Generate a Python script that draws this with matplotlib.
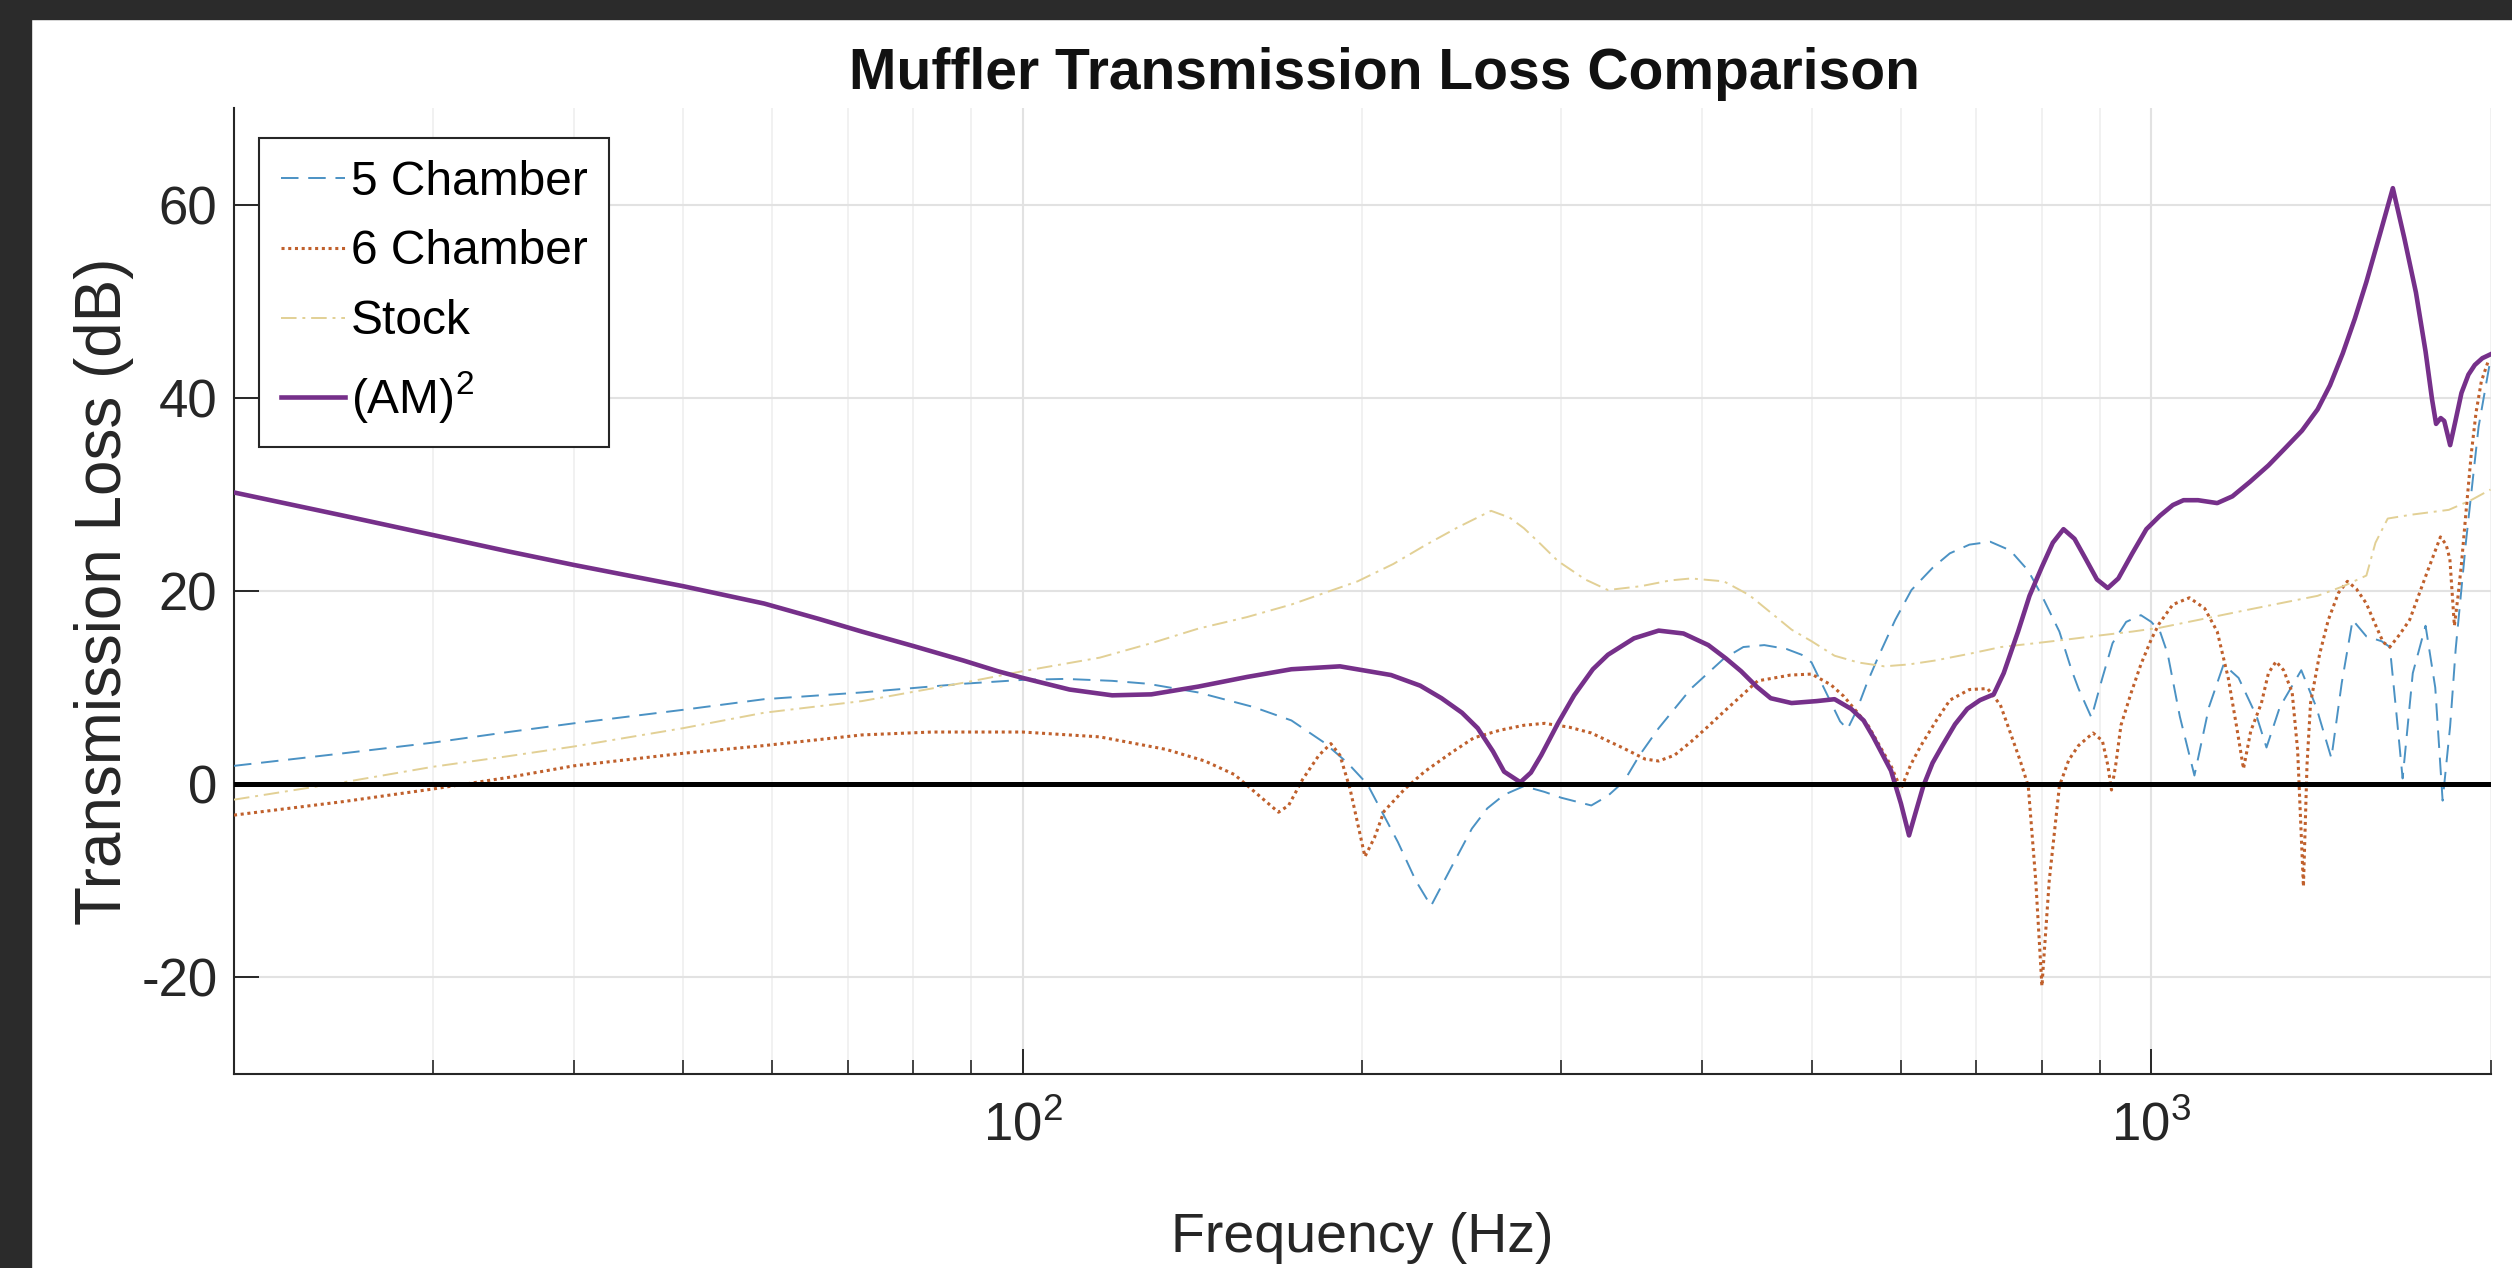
import matplotlib
matplotlib.use('Agg')
import matplotlib.pyplot as plt
from matplotlib.patches import Rectangle
from matplotlib.ticker import LogLocator, NullFormatter, FixedLocator

plt.rcParams['font.family'] = ['Liberation Sans', 'DejaVu Sans']
plt.rcParams['mathtext.fontset'] = 'custom'
plt.rcParams['mathtext.rm'] = 'Liberation Sans'
plt.rcParams['mathtext.it'] = 'Liberation Sans:italic'
plt.rcParams['mathtext.bf'] = 'Liberation Sans:bold'
plt.rcParams['axes.unicode_minus'] = False

# ---------------- data ----------------
am2_f = [20, 25, 30, 35, 40, 50, 59, 66, 72, 80, 88.6, 95, 100, 110, 120, 130, 143, 158, 173,
         191, 212, 225, 235, 245, 253, 261, 267, 276, 282, 288, 298, 308, 320, 330, 348, 366,
         385, 405, 420, 433, 447, 460, 480, 505, 524, 542, 556, 567, 588, 600, 610, 618, 628,
         640, 653, 670, 687, 705, 725, 740, 762, 780, 800, 818, 836, 855, 874, 895, 915, 935,
         962, 990, 1018, 1045, 1068, 1100, 1144, 1180, 1223, 1270, 1312, 1360, 1404, 1440,
         1478, 1515, 1551, 1595, 1637, 1676, 1716, 1750, 1773, 1788, 1805, 1818, 1840, 1860,
         1883, 1910, 1935, 1965, 1998]
am2_db = [30.2, 27.8, 25.8, 24.1, 22.7, 20.5, 18.7, 17.1, 15.8, 14.3, 12.8, 11.7, 11.0, 9.8,
          9.2, 9.3, 10.1, 11.1, 11.9, 12.2, 11.3, 10.2, 8.9, 7.4, 5.8, 3.4, 1.3, 0.2, 1.2, 3.0,
          6.3, 9.2, 11.9, 13.4, 15.1, 15.9, 15.6, 14.4, 13.0, 11.7, 10.1, 8.9, 8.4, 8.6, 8.8,
          7.8, 6.6, 4.9, 1.4, -2.0, -5.3, -3.0, -0.2, 2.2, 4.0, 6.2, 7.8, 8.7, 9.3, 11.5, 15.8,
          19.5, 22.5, 25.0, 26.4, 25.4, 23.4, 21.2, 20.3, 21.3, 23.9, 26.4, 27.8, 28.9, 29.4,
          29.4, 29.1, 29.8, 31.3, 33.0, 34.7, 36.6, 38.8, 41.3, 44.6, 48.2, 52.0, 57.0, 61.7,
          56.5, 50.9, 44.8, 39.9, 37.3, 37.9, 37.6, 35.1, 37.6, 40.5, 42.4, 43.4, 44.1, 44.5]

ch5_f = [20, 25, 30, 35, 40, 50, 59, 72, 88.6, 100, 109, 120, 129, 143, 160, 173, 185, 194,
         202, 215, 223, 230, 240, 250, 258, 267, 278, 290, 300, 319, 330, 341, 352, 366, 391,
         418, 435, 454, 475, 490, 500, 515, 530, 538, 548, 560, 573, 593, 613, 640, 663, 690,
         720, 750, 778, 800, 829, 850, 862, 885, 905, 924, 950, 979, 1000, 1018, 1034, 1060,
         1092, 1125, 1159, 1195, 1240, 1265, 1300, 1358, 1400, 1444, 1475, 1508, 1551, 1600,
         1627, 1650, 1670, 1705, 1750, 1785, 1812, 1840, 1861, 1900, 1950, 1998]
ch5_db = [1.9, 3.2, 4.3, 5.4, 6.3, 7.7, 8.8, 9.5, 10.4, 10.8, 10.9, 10.7, 10.4, 9.5, 8.0, 6.6,
          4.3, 2.2, 0.0, -6.0, -10.0, -12.6, -8.5, -4.6, -2.5, -1.1, -0.2, -0.8, -1.4, -2.2,
          -1.2, 0.3, 3.0, 5.8, 9.9, 13.0, 14.2, 14.4, 14.0, 13.4, 12.6, 9.5, 6.5, 5.7, 7.6,
          10.5, 13.2, 17.0, 20.1, 22.4, 23.9, 24.8, 25.1, 24.2, 22.1, 19.5, 15.8, 11.8, 9.9,
          6.9, 11.0, 14.6, 16.8, 17.5, 16.8, 15.8, 13.5, 7.0, 0.9, 8.0, 12.4, 11.0, 7.0, 3.8,
          8.0, 11.8, 8.0, 2.7, 10.5, 17.0, 15.3, 14.8, 14.2, 7.0, 0.6, 11.5, 16.4, 10.0, -1.7,
          6.0, 14.0, 25.0, 37.0, 44.0]

ch6_f = [20, 25, 30, 35, 40, 50, 59, 72, 83, 100, 117, 134, 145, 154, 162, 168.5, 172, 177,
         183, 187.5, 191, 195, 201, 205, 209, 218, 227, 240, 251, 265, 278, 290, 305, 319, 341,
         356, 366, 378, 391, 405, 418, 448, 479, 500, 520, 534, 561, 588, 600, 612, 625, 645,
         663, 690, 716, 735, 746, 765, 778, 790, 800, 812, 829, 845, 862, 888, 905, 915, 922,
         930, 940, 960, 979, 1000, 1016, 1045, 1081, 1115, 1144, 1170, 1190, 1207, 1225, 1252,
         1270, 1290, 1310, 1333, 1348, 1364, 1374, 1384, 1410, 1435, 1465, 1492, 1520, 1551,
         1580, 1605, 1627, 1660, 1694, 1750, 1804, 1825, 1839, 1856, 1870, 1883, 1900, 1921,
         1940, 1961, 1990]
ch6_db = [-3.2, -1.8, -0.5, 0.7, 1.9, 3.2, 4.0, 5.1, 5.4, 5.4, 4.9, 3.6, 2.4, 1.0, -1.2, -2.9,
          -2.2, 0.5, 3.0, 4.2, 3.0, -0.5, -7.5, -5.5, -2.8, -0.5, 1.3, 3.3, 4.8, 5.6, 6.1, 6.3,
          5.9, 5.3, 3.7, 2.6, 2.4, 3.0, 4.4, 6.0, 7.5, 10.7, 11.3, 11.4, 10.3, 9.1, 6.1, 1.9,
          -0.5, 2.0, 4.0, 6.6, 8.7, 9.8, 9.9, 8.2, 6.1, 2.5, -0.2, -10.0, -20.9, -10.0, -0.2,
          2.5, 4.0, 5.3, 4.5, 2.0, -0.6, 2.0, 6.1, 9.5, 12.4, 15.0, 16.6, 18.6, 19.3, 18.2,
          15.8, 11.0, 6.0, 1.6, 5.5, 8.4, 11.5, 12.7, 11.8, 9.5, 3.5, -10.6, 2.0, 8.4, 13.5,
          17.0, 19.8, 21.0, 20.2, 18.7, 16.5, 14.7, 14.2, 15.5, 17.0, 21.5, 25.6, 24.8, 23.3,
          16.4, 19.5, 22.8, 28.0, 34.2, 38.5, 41.7, 43.9]

stock_f = [20, 25, 30, 35, 40, 50, 59, 72, 88.6, 100, 117, 130, 143, 158, 173, 198, 213, 227,
           243, 260, 270, 278, 288, 298, 315, 330, 353, 375, 391, 418, 440, 463, 480, 500, 524,
           550, 580, 610, 643, 690, 736, 790, 845, 900, 962, 1018, 1100, 1223, 1310, 1404,
           1480, 1551, 1580, 1620, 1700, 1835, 1920, 1998]
stock_db = [-1.6, 0.2, 1.8, 2.9, 3.9, 5.8, 7.4, 8.6, 10.5, 11.7, 13.1, 14.6, 16.1, 17.3, 18.6,
            21.0, 22.8, 24.7, 26.6, 28.3, 27.6, 26.5, 24.8, 23.1, 21.2, 20.1, 20.5, 21.1, 21.3,
            21.0, 19.6, 17.5, 16.0, 14.8, 13.3, 12.6, 12.2, 12.4, 12.8, 13.5, 14.2, 14.6, 15.0,
            15.4, 15.8, 16.2, 17.0, 18.1, 18.8, 19.5, 20.5, 21.6, 25.0, 27.5, 27.9, 28.4, 29.4,
            30.5]

series_labels = ['5 Chamber', '6 Chamber', 'Stock', '(AM)$^\\mathregular{2}$']
y_ticks = [-20, 0, 20, 40, 60]

# ---------------- figure ----------------
W, H = 2512, 1268
fig = plt.figure(figsize=(W / 100, H / 100), dpi=100)
fig.patch.set_facecolor('white')
# dark frame (top and left)
fig.patches.append(Rectangle((0, 1 - 19 / H), 1, 19 / H, transform=fig.transFigure,
                             color='#2b2b2b', zorder=-10))
fig.patches.append(Rectangle((0, 0), 31 / W, 1, transform=fig.transFigure,
                             color='#2b2b2b', zorder=-10))

L, R, T, B = 234, 2491, 108, 1074
ax = fig.add_axes([L / W, 1 - B / H, (R - L) / W, (B - T) / H])

ax.plot(ch5_f, ch5_db, color='#4b92c4', lw=1.4, ls=(0, (9, 5)), label=series_labels[0], zorder=3)
ax.plot(ch6_f, ch6_db, color='#c0602c', lw=2.2, ls=(0, (1, 1.2)), label=series_labels[1], zorder=3)
ax.plot(stock_f, stock_db, color='#e2d095', lw=1.4, ls=(0, (8, 3, 1.5, 3)), label=series_labels[2], zorder=3)
ax.plot(am2_f, am2_db, color='#76308a', lw=3.3, ls='-', label=series_labels[3], zorder=4)
ax.axhline(0, color='black', lw=3.6, zorder=5)

ax.set_xscale('log')
ax.set_xlim(20, 2000)
ax.set_ylim(-30, 70)
ax.set_yticks(y_ticks)
ax.xaxis.set_major_locator(FixedLocator([100, 1000]))
ax.xaxis.set_minor_locator(LogLocator(base=10, subs=[2, 3, 4, 5, 6, 7, 8, 9], numticks=20))
ax.xaxis.set_minor_formatter(NullFormatter())

ax.set_axisbelow(True)
ax.grid(which='major', axis='both', color='#e2e2e2', lw=1.5)
ax.grid(which='minor', axis='x', color='#efefef', lw=1.2)

for s in ['top', 'right']:
    ax.spines[s].set_visible(False)
for s in ['left', 'bottom']:
    ax.spines[s].set_color('#262626')
    ax.spines[s].set_linewidth(1.5)

ax.tick_params(axis='both', which='major', direction='in', length=18, width=1.4,
               color='#262626', labelsize=38, labelcolor='#262626')
ax.tick_params(axis='both', which='minor', direction='in', length=10, width=1.2, color='#262626')
ax.tick_params(axis='x', which='major', pad=20)
ax.tick_params(axis='y', which='major', pad=12)

ttl = ax.set_title('Muffler Transmission Loss Comparison', fontsize=41, fontweight='bold',
                   color='#111111', pad=14)
ttl.set_x(0.5 + 22 / (R - L))
ax.set_xlabel('Frequency (Hz)', fontsize=40, color='#262626')
ax.set_ylabel('Transmission Loss (dB)', fontsize=46, color='#262626')
ax.xaxis.set_label_coords(0.5, -(1212 - B) / (B - T))
ax.yaxis.set_label_coords(-(L - 134) / (R - L), 0.5)

leg = ax.legend(loc='upper left', bbox_to_anchor=((259 - L) / (R - L), 1 - (138 - T) / (B - T)),
                borderaxespad=0, fontsize=34.5, frameon=True, fancybox=False,
                edgecolor='#262626', facecolor='white', framealpha=1,
                handlelength=1.35, handletextpad=0.12, labelspacing=0.52, borderpad=0.45)
leg.get_frame().set_linewidth(1.5)

fig.savefig('out.png', dpi=100)
